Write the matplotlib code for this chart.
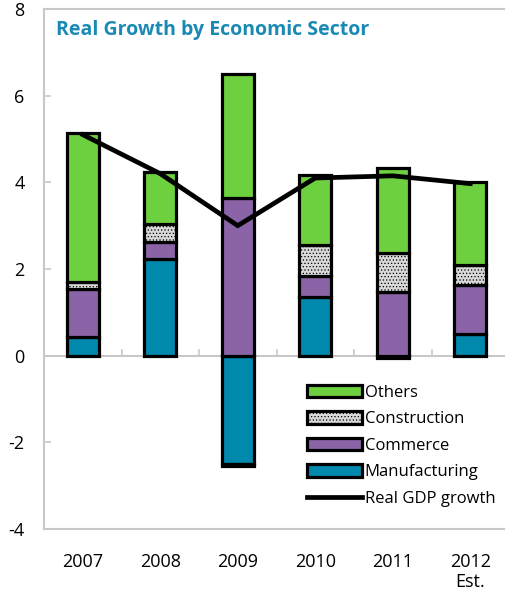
import numpy as np
import matplotlib
matplotlib.use('Agg')
import matplotlib.pyplot as plt
from matplotlib.patches import Patch
from matplotlib.lines import Line2D

# Contributions to real growth, percentage points
years = ['2007', '2008', '2009', '2010', '2011', '2012\nEst.']
manufacturing = [0.42, 2.23, -2.50, 1.35, -0.05, 0.49]
commerce = [1.11, 0.39, 3.63, 0.48, 1.48, 1.13]
construction = [0.16, 0.41, -0.05, 0.72, 0.90, 0.48]
others = [3.44, 1.21, 2.87, 1.62, 1.96, 1.90]
gdp_growth = [5.1, 4.2, 3.0, 4.1, 4.15, 3.97]

series = [
    ('Manufacturing', manufacturing, '#0089AD', None),
    ('Commerce', commerce, '#8A64A7', None),
    ('Construction', construction, '#D8D8D8', '.....'),
    ('Others', others, '#6DD13F', None),
]

plt.rcParams['font.family'] = ['Open Sans', 'DejaVu Sans']
plt.rcParams['axes.unicode_minus'] = False
plt.rcParams['hatch.color'] = '#a8a8a8'
plt.rcParams['hatch.linewidth'] = 0.5

fig = plt.figure(figsize=(5.05, 5.97), dpi=100)
ax = fig.add_axes([44 / 505, 68 / 597, 465 / 505, 520 / 597])

x = np.arange(len(years))
width = 0.41
pos_base = np.zeros(len(years))
neg_base = np.zeros(len(years))
for name, vals, color, hatch in series:
    vals = np.array(vals)
    base = np.where(vals >= 0, pos_base, neg_base)
    ax.bar(x, vals, width, bottom=base, color=color, edgecolor='black',
           linewidth=2.3, hatch=hatch, zorder=3, label=name)
    pos_base += np.where(vals >= 0, vals, 0)
    neg_base += np.where(vals < 0, vals, 0)

ax.plot(x, gdp_growth, color='black', linewidth=3.4, zorder=4,
        solid_joinstyle='miter')

# zero line with small separators between years
ax.axhline(0, color='#c8c8c8', linewidth=1.5, zorder=2)
for b in x[:-1] + 0.5:
    ax.plot([b, b], [0, 0.12], color='#c8c8c8', linewidth=1.2, zorder=2)

ax.set_xlim(-0.5, len(years) - 0.5)
ax.set_ylim(-4, 8)
ax.set_yticks(np.arange(-4, 9, 2))
ax.set_xticks(x)
ax.set_xticklabels(years, fontsize=13)
ax.tick_params(axis='x', length=0, pad=17)
ax.tick_params(axis='y', direction='in', length=5, color='#c8c8c8',
               width=1.2, pad=14, labelsize=13)

for s in ['top', 'left', 'bottom']:
    ax.spines[s].set_color('#c8c8c8')
    ax.spines[s].set_linewidth(1.5)
ax.spines['right'].set_visible(False)

ax.text(0.025, 0.978, 'Real Growth by Economic Sector', transform=ax.transAxes,
        fontsize=14, fontweight='bold', color='#1A8AB4', va='top', ha='left')

handles = [Patch(facecolor=c, edgecolor='black', linewidth=2.3, hatch=h, label=n)
           for n, _, c, h in series[::-1]]
handles.append(Line2D([0], [0], color='black', linewidth=3.4, label='Real GDP growth'))
ax.legend(handles=handles, loc='lower right', bbox_to_anchor=(0.985, 0.03),
          frameon=False, fontsize=12, handlelength=3.3, handleheight=0.8,
          handletextpad=0.15, labelspacing=0.62, borderaxespad=0)

fig.savefig('out.png', dpi=100)
